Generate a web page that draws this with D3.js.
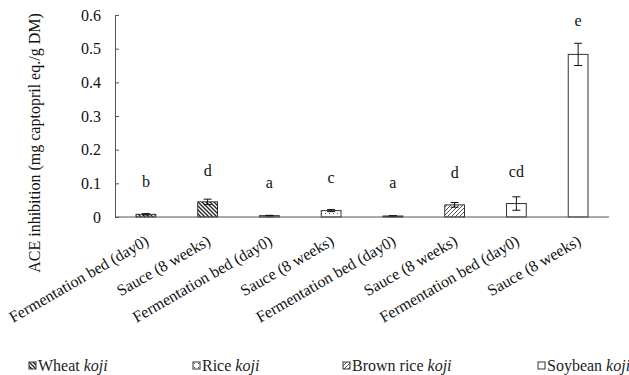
<!DOCTYPE html>
<html>
<head>
<meta charset="utf-8">
<script src="https://cdn.jsdelivr.net/npm/d3@7"></script>
<style>
  body { margin: 0; background: #fff; }
</style>
</head>
<body>
<div id="chart"></div>
<script>
// # Data.
const categories = [
  'Fermentation bed (day0)', 'Sauce (8 weeks)',
  'Fermentation bed (day0)', 'Sauce (8 weeks)',
  'Fermentation bed (day0)', 'Sauce (8 weeks)',
  'Fermentation bed (day0)', 'Sauce (8 weeks)'
]
const kojiOfBar = ['wheat', 'wheat', 'rice', 'rice', 'brown', 'brown', 'soy', 'soy']
const values = [0.008, 0.045, 0.004, 0.019, 0.003, 0.036, 0.040, 0.483]
const errors = [0.002, 0.008, 0.001, 0.003, 0.001, 0.007, 0.020, 0.033]
const letters = ['b', 'd', 'a', 'c', 'a', 'd', 'cd', 'e']
const letterAt = [0.088, 0.122, 0.086, 0.100, 0.086, 0.116, 0.119, 0.567]
const yTicks = [0, 0.1, 0.2, 0.3, 0.4, 0.5, 0.6]
const legendKeys = ['wheat', 'rice', 'brown', 'soy']
const legendNames = ['Wheat', 'Rice', 'Brown rice', 'Soybean']

// # Layout
const width = 629, height = 375
const plotLeft = 115, plotRight = 609, plotTop = 15, plotBottom = 217
const fontSize = 16
const serif = '"Times New Roman", "Liberation Serif", Tinos, "DejaVu Serif", serif'

const svg = d3.select('#chart').append('svg')
  .attr('width', width)
  .attr('height', height)
  .attr('font-family', serif)

// # Fill patterns
const defs = svg.append('defs')
const hatch = (id, d, size, w) => {
  const p = defs.append('pattern').attr('id', id)
    .attr('patternUnits', 'userSpaceOnUse')
    .attr('width', size).attr('height', size)
  p.append('rect').attr('width', size).attr('height', size).attr('fill', '#fff')
  p.append('path').attr('d', d).attr('stroke', '#222').attr('stroke-width', w)
}
hatch('p-wheat', 'M-1,-1 L5,5 M-1,3 L1,5 M3,-1 L5,1', 4, 1.3)
hatch('p-brown', 'M-1,5 L5,-1 M-1,1 L1,-1 M3,5 L5,3', 4, 0.8)
const dots = defs.append('pattern').attr('id', 'p-rice')
  .attr('patternUnits', 'userSpaceOnUse').attr('width', 4).attr('height', 4)
dots.append('rect').attr('width', 4).attr('height', 4).attr('fill', '#fff')
dots.append('rect').attr('x', 1).attr('y', 1).attr('width', 1).attr('height', 1).attr('fill', '#555')
const fillOf = k => k === 'soy' ? '#fff' : 'url(#p-' + k + ')'

// # Scales
const x = d3.scaleBand().domain(d3.range(categories.length)).range([plotLeft, plotRight]).paddingInner(0.68).paddingOuter(0.34)
const y = d3.scaleLinear().domain([0, 0.6]).range([plotBottom, plotTop])

// # Y axis
const yAxis = svg.append('g')
  .attr('transform', 'translate(' + plotLeft + ',0)')
  .call(d3.axisLeft(y).tickValues(yTicks).tickSize(-4).tickPadding(14)
    .tickFormat(d => d === 0 ? '0' : d3.format('.1f')(d)))
yAxis.attr('font-family', serif).attr('font-size', fontSize)
yAxis.select('.domain').attr('stroke', '#555')
yAxis.selectAll('.tick line').attr('stroke', '#555')
yAxis.selectAll('text').attr('fill', '#111')

// # Bars
svg.append('g').selectAll('rect')
  .data(values).enter().append('rect')
  .attr('x', (d, i) => x(i))
  .attr('y', d => y(d))
  .attr('width', x.bandwidth())
  .attr('height', d => y(0) - y(d))
  .attr('fill', (d, i) => fillOf(kojiOfBar[i]))
  .attr('stroke', '#333')
  .attr('stroke-width', 1)

// # Error bars
const errG = svg.append('g').attr('stroke', '#111').attr('stroke-width', 1)
values.forEach((v, i) => {
  const cx = x(i) + x.bandwidth() / 2
  errG.append('line').attr('x1', cx).attr('x2', cx).attr('y1', y(v - errors[i])).attr('y2', y(v + errors[i]))
  ;[v - errors[i], v + errors[i]].forEach(e => {
    errG.append('line').attr('x1', cx - 4).attr('x2', cx + 4).attr('y1', y(e)).attr('y2', y(e))
  })
})

// # X axis line
svg.append('line').attr('x1', plotLeft).attr('x2', plotRight).attr('y1', y(0)).attr('y2', y(0))
  .attr('stroke', '#555')

// # Significance letters
svg.append('g').selectAll('text')
  .data(letters).enter().append('text')
  .attr('x', (d, i) => x(i) + x.bandwidth() / 2)
  .attr('y', (d, i) => y(letterAt[i]))
  .attr('text-anchor', 'middle')
  .attr('font-size', fontSize)
  .attr('fill', '#111')
  .text(d => d)

// # Category labels
svg.append('g').selectAll('text')
  .data(categories).enter().append('text')
  .attr('text-anchor', 'end')
  .attr('font-size', fontSize)
  .attr('fill', '#111')
  .attr('transform', (d, i) => 'translate(' + (x(i) + x.bandwidth() / 2 + 4) + ',' + (plotBottom + 27) + ') rotate(-30)')
  .text(d => d)

// # Y title
svg.append('text')
  .attr('transform', 'translate(40,' + 143 + ') rotate(-90)')
  .attr('text-anchor', 'middle')
  .attr('font-size', fontSize)
  .attr('fill', '#111')
  .text('ACE inhibition (mg captopril eq./g DM)')

// # Legend
const legendX = [29, 193, 343, 538]
const lg = svg.append('g').selectAll('g')
  .data(legendKeys).enter().append('g')
  .attr('transform', (d, i) => 'translate(' + legendX[i] + ',366)')
lg.append('rect').attr('x', 0).attr('y', -4).attr('width', 7).attr('height', 7)
  .attr('fill', d => fillOf(d)).attr('stroke', '#333')
const lt = lg.append('text').attr('x', 9).attr('y', 5).attr('font-size', fontSize).attr('fill', '#222')
lt.append('tspan').text((d, i) => legendNames[i] + ' ')
lt.append('tspan').attr('font-style', 'italic').text('koji')
</script>
</body>
</html>
